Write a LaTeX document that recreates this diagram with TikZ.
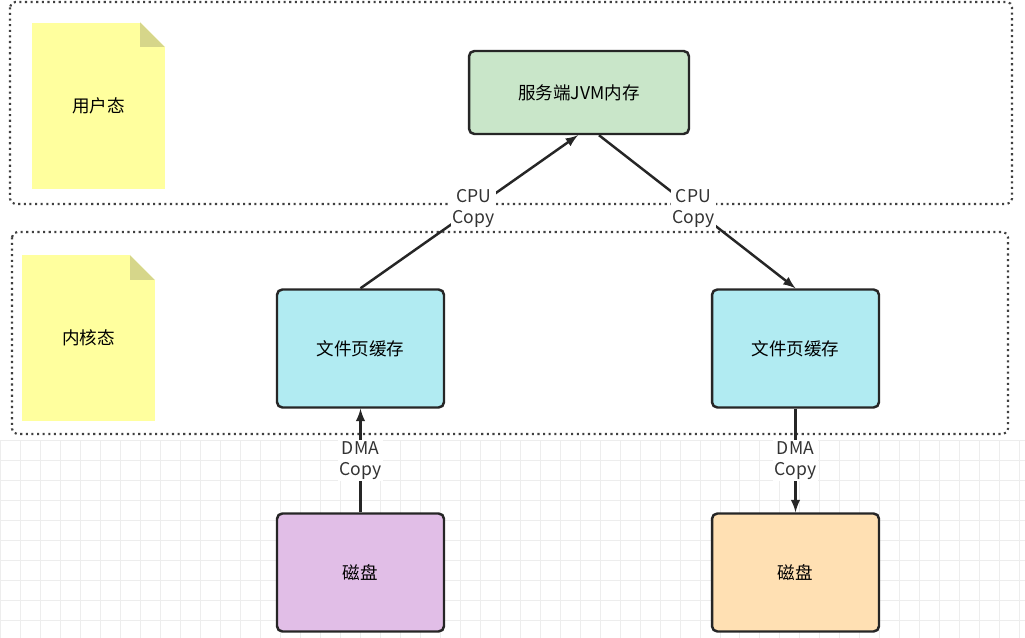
\documentclass[tikz,border=0pt]{standalone}
\usepackage{fontspec}
\setmainfont{Noto Sans CJK SC}
\usetikzlibrary{positioning}
\definecolor{jvmfill}{HTML}{C9E6C9}
\definecolor{cachefill}{HTML}{B1EBF2}
\definecolor{diskA}{HTML}{E1BEE7}
\definecolor{diskB}{HTML}{FFE0B3}
\definecolor{notefill}{HTML}{FFFF9E}
\definecolor{foldfill}{HTML}{D6D68A}
\tikzset{
	box/.style={draw=black!85, line width=1.4pt, rounded corners=3pt, minimum width=3.34cm, minimum height=2.36cm, font=\fontsize{10}{12}\selectfont},
	zone/.style={draw=black!75, line width=1.2pt, dotted, rounded corners=3pt},
	note/.style={fill=notefill, minimum width=2.66cm, minimum height=3.34cm, font=\fontsize{10}{12}\selectfont},
	lbl/.style={fill=white, inner sep=1pt, align=center, font=\fontsize{10}{12}\selectfont, text=black!80},
	link/.style={draw=black!85, line width=1.4pt, -latex},
}
\begin{document}
\begin{tikzpicture}[x=0.02cm, y=-0.02cm]
	\useasboundingbox (0,0) rectangle (1025,638);
	% background grid
	\draw[black!7, step=0.4cm] (0,0) grid (1025,638);
	\fill[white] (0,0) rectangle (1025,440);
	
	\draw[zone] (10,2) rectangle (1012,204);
	\draw[zone] (12,232) rectangle (1008,434);
	
	% notes
	\node (un) [note] at (98.5,106) {用户态};
	\fill[foldfill] (140,22) -- (165,47) -- (140,47) -- cycle;
	\fill[white] (140,22) -- (165,22) -- (165,47) -- cycle;
	\node (kn) [note] at (88.5,338) {内核态};
	\fill[foldfill] (130,255) -- (155,280) -- (130,280) -- cycle;
	\fill[white] (130,255) -- (155,255) -- (155,280) -- cycle;
	
	\node (jvm) [box, fill=jvmfill, minimum width=4.4cm, minimum height=1.66cm] at (579,92.5) {服务端JVM内存};
	\node (c1) [box, fill=cachefill] at (360.5,348.5) {文件页缓存};
	\node (c2) [box, fill=cachefill] at (795.5,348.5) {文件页缓存};
	\node (d1) [box, fill=diskA] at (360.5,572.5) {磁盘};
	\node (d2) [box, fill=diskB] at (795.5,572.5) {磁盘};
	
	\draw[link] (c1.north) -- node[lbl, pos=0.52] {CPU\\Copy} ([xshift=-0.02cm]jvm.south);
	\draw[link] ([xshift=0.4cm]jvm.south) -- node[lbl, pos=0.48] {CPU\\Copy} (c2.north);
	\draw[link] (d1.north) -- node[lbl] {DMA\\Copy} (c1.south);
	\draw[link] (c2.south) -- node[lbl] {DMA\\Copy} (d2.north);
\end{tikzpicture}
\end{document}
